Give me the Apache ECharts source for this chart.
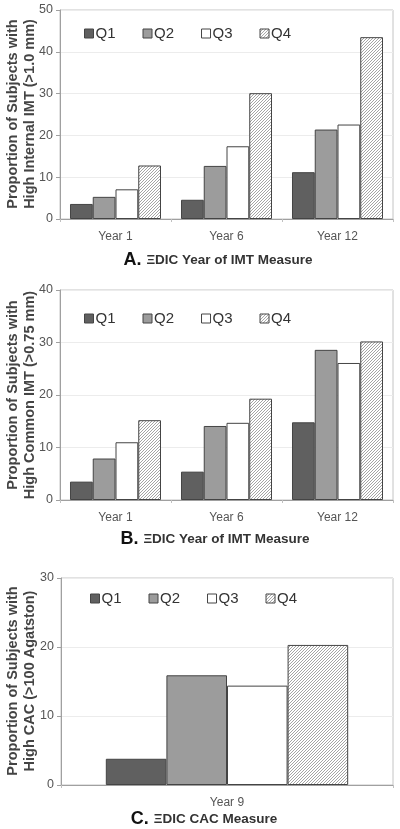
<!DOCTYPE html>
<html>
<head>
<meta charset="utf-8">
<script src="https://cdn.jsdelivr.net/npm/echarts@6/dist/echarts.min.js"></script>
<style>
html,body{margin:0;padding:0;background:#fff;}
#c{width:400px;height:829px;}
</style>
</head>
<body>
<div id="c"></div>
<script>
// ---- data ----
var quartiles = ['Q1', 'Q2', 'Q3', 'Q4'];
var catsA = ['Year 1', 'Year 6', 'Year 12'];
var A_Q1 = [3.6, 4.6, 11.2];
var A_Q2 = [5.3, 12.7, 21.4];
var A_Q3 = [7.1, 17.4, 22.6];
var A_Q4 = [12.8, 30.1, 43.5];
var catsB = ['Year 1', 'Year 6', 'Year 12'];
var B_Q1 = [3.5, 5.4, 14.8];
var B_Q2 = [7.9, 14.1, 28.6];
var B_Q3 = [11.0, 14.7, 26.1];
var B_Q4 = [15.2, 19.3, 30.2];
var catsC = ['Year 9'];
var C_Q1 = [3.8];
var C_Q2 = [15.9];
var C_Q3 = [14.4];
var C_Q4 = [20.3];
var yTitleA = 'Proportion of Subjects with\nHigh Internal IMT (>1.0 mm)';
var yTitleB = 'Proportion of Subjects with\nHigh Common IMT (>0.75 mm)';
var yTitleC = 'Proportion of Subjects with\nHigh CAC (>100 Agatston)';
var titleA = ['A.', '\u039EDIC Year of IMT Measure'];
var titleB = ['B.', '\u039EDIC Year of IMT Measure'];
var titleC = ['C.', '\u039EDIC CAC Measure'];

// ---- hatch pattern ----
var P = 3;
var pc = document.createElement('canvas');
pc.width = P; pc.height = P;
var pctx = pc.getContext('2d');
pctx.fillStyle = '#ffffff';
pctx.fillRect(0, 0, P, P);
pctx.strokeStyle = '#9a9a9a';
pctx.lineWidth = 0.9;
pctx.beginPath();
pctx.moveTo(0, P); pctx.lineTo(P, 0);
pctx.moveTo(-1, 1); pctx.lineTo(1, -1);
pctx.moveTo(P - 1, P + 1); pctx.lineTo(P + 1, P - 1);
pctx.stroke();
var hatch = { image: pc, repeat: 'repeat' };

var fills = ['#606060', '#9c9c9c', '#ffffff', hatch];
var FONT = 'Liberation Sans, Arial, sans-serif';

var grids = [
  { left: 60, top: 10, width: 333, height: 209 },
  { left: 60, top: 290, width: 333, height: 210 },
  { left: 61, top: 578, width: 332, height: 207 }
];
grids.forEach(function (g) {
  g.show = true; g.borderColor = '#c4c4c4'; g.borderWidth = 1; g.backgroundColor = 'transparent';
  g.containLabel = false; g.outerBoundsMode = 'none';
});

function xAx(i, cats) {
  return {
    type: 'category', gridIndex: i, data: cats,
    axisLine: { lineStyle: { color: '#a0a0a0' } },
    axisTick: { show: true, length: 3, lineStyle: { color: '#c0c0c0' } },
    axisLabel: { color: '#555', fontSize: 12, fontFamily: FONT, margin: 12 }
  };
}
function yAx(i, max) {
  return {
    type: 'value', gridIndex: i, min: 0, max: max, interval: 10,
    axisLine: { show: true, lineStyle: { color: '#a0a0a0' } },
    axisTick: { show: true, length: 4, lineStyle: { color: '#a0a0a0' } },
    axisLabel: { color: '#555', fontSize: 12.5, fontFamily: FONT, margin: 7 },
    splitLine: { lineStyle: { color: '#ececec' } }
  };
}
function yName(text, cx, cy) {
  return {
    type: 'text', x: cx, y: cy, rotation: Math.PI / 2, silent: true,
    style: {
      text: text, align: 'center', verticalAlign: 'middle',
      fill: '#444', fontSize: 14.5, fontWeight: 'bold', fontFamily: FONT, lineHeight: 17
    }
  };
}
function mkSeries(i, arrs, catGap) {
  return arrs.map(function (d, k) {
    return {
      type: 'bar', name: quartiles[k], xAxisIndex: i, yAxisIndex: i, data: d,
      barGap: '0%', barCategoryGap: catGap,
      itemStyle: { color: fills[k], borderColor: '#444', borderWidth: 1 },
      emphasis: { disabled: true },
      animation: false
    };
  });
}
function mkLegend(left, top, gap) {
  return {
    data: quartiles, left: left, top: top, itemWidth: 9, itemHeight: 9, itemGap: gap,
    icon: 'rect', selectedMode: false, padding: 0,
    itemStyle: { borderColor: '#444', borderWidth: 1 },
    textStyle: { color: '#333', fontSize: 15, fontFamily: FONT, padding: [0, 0, 0, -3] }
  };
}
function mkTitle(parts, cx, cy) {
  return {
    text: '{a|' + parts[0] + '} {b|' + parts[1] + '}',
    left: cx, top: cy, textAlign: 'center', padding: 0,
    textStyle: {
      rich: {
        a: { fontSize: 18, fontWeight: 'bold', color: '#111', fontFamily: FONT },
        b: { fontSize: 13.5, fontWeight: 'bold', color: '#333', fontFamily: FONT }
      }
    }
  };
}

var option = {
  animation: false,
  backgroundColor: '#fff',
  grid: grids,
  title: [mkTitle(titleA, 218, 251), mkTitle(titleB, 215, 530), mkTitle(titleC, 204, 810)],
  legend: [mkLegend(84, 26, 27), mkLegend(84, 311, 27), mkLegend(90, 591, 27)],
  graphic: [yName(yTitleA, 21, 114), yName(yTitleB, 21, 395), yName(yTitleC, 21, 681)],
  xAxis: [xAx(0, catsA), xAx(1, catsB), xAx(2, catsC)],
  yAxis: [yAx(0, 50), yAx(1, 40), yAx(2, 30)],
  series: [].concat(
    mkSeries(0, [A_Q1, A_Q2, A_Q3, A_Q4], '18%'),
    mkSeries(1, [B_Q1, B_Q2, B_Q3, B_Q4], '18%'),
    mkSeries(2, [C_Q1, C_Q2, C_Q3, C_Q4], '27%')
  )
};
var chart = echarts.init(document.getElementById('c'), null, { renderer: 'canvas' });
chart.setOption(option);
</script>
</body>
</html>
